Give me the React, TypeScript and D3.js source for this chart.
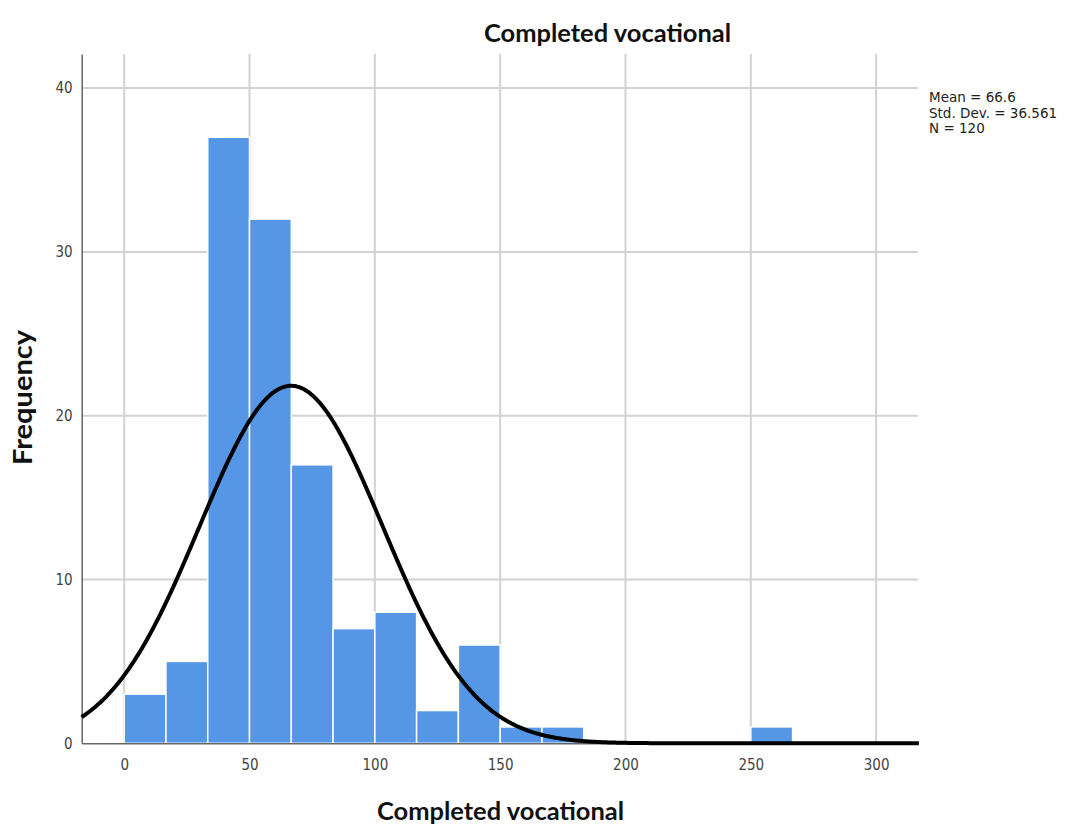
import { useEffect, useRef } from 'react';
import { axisBottom, axisLeft, line, range, scaleLinear, select } from 'd3';

// histogram bins (width 50/3, starting at 0)
const binWidth = 50 / 3;
const counts = [3, 5, 37, 32, 17, 7, 8, 2, 6, 1, 1, 0, 0, 0, 0, 1];
const xTicks = [0, 50, 100, 150, 200, 250, 300];
const yTicks = [0, 10, 20, 30, 40];
const stats = { mean: 66.6, sd: 36.561, n: 120 };
const statLines = ['Mean = 66.6', 'Std. Dev. = 36.561', 'N = 120'];

export default function App() {
  const ref = useRef<SVGSVGElement>(null);

  useEffect(() => {
    const el = ref.current;
    if (!el) return;
    const svg = select(el);
    svg.selectAll('*').remove();

    const left = 81.7,
      right = 918,
      top = 54,
      bottom = 743.3;

    const x = scaleLinear().domain([-16.95, 316.7]).range([left, right]);
    const y = scaleLinear().domain([0, 42.08]).range([bottom, top]);

    const font = 'Lato, "Open Sans", sans-serif';
    const tickFont = '"DejaVu Sans Condensed", "DejaVu Sans", sans-serif';

    // grid
    const grid = svg.append('g');
    grid
      .selectAll('line.v')
      .data(xTicks)
      .join('line')
      .attr('x1', (d) => x(d))
      .attr('x2', (d) => x(d))
      .attr('y1', top)
      .attr('y2', bottom)
      .attr('stroke', '#d2d2d2')
      .attr('stroke-width', 2);
    grid
      .selectAll('line.h')
      .data(yTicks.filter((d) => d > 0))
      .join('line')
      .attr('x1', left)
      .attr('x2', right)
      .attr('y1', (d) => y(d))
      .attr('y2', (d) => y(d))
      .attr('stroke', '#d2d2d2')
      .attr('stroke-width', 2);

    // bars
    svg
      .append('g')
      .selectAll('rect')
      .data(counts.map((c, i) => ({ c, x0: i * binWidth, x1: (i + 1) * binWidth })).filter((d) => d.c > 0))
      .join('rect')
      .attr('x', (d) => x(d.x0))
      .attr('width', (d) => x(d.x1) - x(d.x0))
      .attr('y', (d) => y(d.c))
      .attr('height', (d) => y(0) - y(d.c))
      .attr('fill', '#5596e6')
      .attr('stroke', '#ffffff')
      .attr('stroke-width', 1.5);

    // axes
    const xAxis = svg
      .append('g')
      .attr('transform', `translate(0,${bottom})`)
      .call(axisBottom(x).tickValues(xTicks).tickSize(0).tickPadding(16));
    xAxis.select('.domain').attr('stroke', '#666').attr('stroke-width', 1.5);
    xAxis.selectAll('text').attr('font-family', tickFont).attr('font-size', 15).attr('fill', '#444');

    const yAxis = svg
      .append('g')
      .attr('transform', `translate(${left},0)`)
      .call(axisLeft(y).tickValues(yTicks).tickSize(0).tickPadding(9).tickFormat((d) => String(d)));
    yAxis.select('.domain').attr('stroke', '#666').attr('stroke-width', 1.5);
    yAxis.selectAll('text').attr('font-family', tickFont).attr('font-size', 15).attr('fill', '#444');

    // normal curve
    const pts = range(x.domain()[0], x.domain()[1] + 0.5, 0.5);
    const dens = (v: number) =>
      ((stats.n * binWidth) / (stats.sd * Math.sqrt(2 * Math.PI))) *
      Math.exp(-((v - stats.mean) ** 2) / (2 * stats.sd * stats.sd));
    svg
      .append('path')
      .datum(pts)
      .attr('d', line<number>().x((d) => x(d)).y((d) => y(dens(d))))
      .attr('fill', 'none')
      .attr('stroke', '#000')
      .attr('stroke-width', 4);

    // title & labels
    svg
      .append('text')
      .attr('x', 607.5)
      .attr('y', 42)
      .attr('text-anchor', 'middle')
      .attr('font-family', font)
      .attr('font-weight', 'bold')
      .attr('font-size', 25)
      .attr('textLength', 247)
      .attr('lengthAdjust', 'spacingAndGlyphs')
      .attr('fill', '#111')
      .text('Completed vocational');
    svg
      .append('text')
      .attr('x', 500.5)
      .attr('y', 820)
      .attr('text-anchor', 'middle')
      .attr('font-family', font)
      .attr('font-weight', 'bold')
      .attr('font-size', 25)
      .attr('textLength', 247)
      .attr('lengthAdjust', 'spacingAndGlyphs')
      .attr('fill', '#111')
      .text('Completed vocational');
    svg
      .append('text')
      .attr('transform', `translate(32,397.5) rotate(-90)`)
      .attr('text-anchor', 'middle')
      .attr('font-family', font)
      .attr('font-weight', 'bold')
      .attr('font-size', 26)
      .attr('textLength', 135)
      .attr('lengthAdjust', 'spacingAndGlyphs')
      .attr('fill', '#111')
      .text('Frequency');

    svg
      .append('g')
      .selectAll('text')
      .data(statLines)
      .join('text')
      .attr('x', 929)
      .attr('y', (_, i) => 102 + i * 15.5)
      .attr('font-family', '"DejaVu Sans", sans-serif')
      .attr('font-size', 13.5)
      .attr('fill', '#222')
      .text((d) => d);
  }, []);

  return (
    <svg
      ref={ref}
      width={1086}
      height={835}
      style={{ position: 'absolute', left: 0, top: 0, background: '#fff' }}
    />
  );
}
